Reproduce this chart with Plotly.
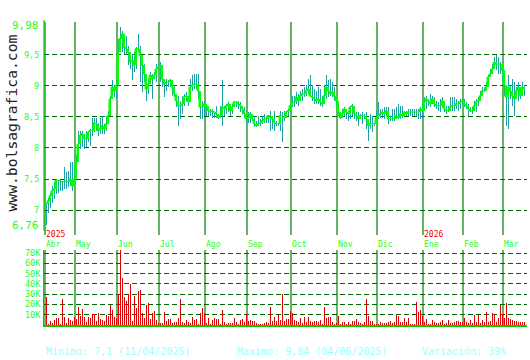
import plotly.graph_objects as go

# ---------------- data ----------------
month_labels = ["Abr", "May", "Jun", "Jul", "Ago", "Sep", "Oct", "Nov", "Dic", "Ene", "Feb", "Mar"]
month_days = [15, 21, 21, 23, 21, 22, 23, 20, 23, 20, 20, 11]
year_labels = {"Abr": "2025", "Ene": "2026"}

close = [
    7.10, 7.15, 7.23, 7.31, 7.34, 7.48, 7.48, 7.47, 7.45, 7.46, 7.47, 7.46, 7.50, 7.39, 7.50,
    7.77, 8.06, 8.20, 8.23, 8.15, 8.15, 8.25, 8.28, 8.28, 8.41, 8.39, 8.28, 8.31, 8.36, 8.31, 8.39, 8.52, 8.79, 8.98, 8.92, 9.01,
    9.54, 9.76, 9.84, 9.62, 9.60, 9.54, 9.38, 9.41, 9.33, 9.60, 9.60, 9.49, 9.33, 9.19, 8.95, 9.03, 9.17, 9.11, 9.17, 9.27, 9.30,
    9.33, 9.11, 9.03, 9.06, 9.06, 9.09, 8.98, 8.87, 8.76, 8.68, 8.68, 8.71, 8.82, 8.84, 8.74, 8.98, 9.01, 9.03, 9.03, 8.92, 8.66, 8.66, 8.71,
    8.68, 8.60, 8.58, 8.60, 8.58, 8.55, 8.49, 8.52, 8.66, 8.63, 8.68, 8.71, 8.60, 8.66, 8.74, 8.74, 8.71, 8.68, 8.63, 8.55, 8.47,
    8.49, 8.55, 8.47, 8.39, 8.36, 8.39, 8.40, 8.44, 8.47, 8.47, 8.52, 8.52, 8.47, 8.41, 8.39, 8.39, 8.52, 8.52, 8.49, 8.58, 8.60, 8.68,
    8.74, 8.74, 8.82, 8.76, 8.84, 8.87, 8.87, 8.92, 8.95, 8.84, 8.82, 8.79, 8.76, 8.79, 8.74, 8.71, 8.84, 8.98, 8.92, 8.87, 8.90, 8.84, 8.76,
    8.58, 8.49, 8.55, 8.63, 8.58, 8.55, 8.66, 8.68, 8.55, 8.52, 8.47, 8.52, 8.52, 8.52, 8.47, 8.36, 8.39, 8.39, 8.39, 8.49,
    8.52, 8.55, 8.58, 8.55, 8.60, 8.47, 8.47, 8.47, 8.47, 8.52, 8.49, 8.55, 8.52, 8.58, 8.55, 8.58, 8.58, 8.58, 8.58, 8.58, 8.58, 8.63, 8.60,
    8.74, 8.79, 8.76, 8.71, 8.79, 8.71, 8.68, 8.68, 8.68, 8.76, 8.63, 8.60, 8.60, 8.66, 8.68, 8.68, 8.71, 8.71, 8.74, 8.76,
    8.71, 8.68, 8.63, 8.60, 8.60, 8.68, 8.74, 8.76, 8.84, 8.92, 8.92, 8.98, 9.14, 9.19, 9.27, 9.38, 9.35, 9.35, 9.35, 9.25,
    9.01, 8.82, 8.98, 8.92, 8.84, 8.79, 8.92, 8.98, 8.84, 8.98, 8.95,
]

high = [
    7.12, 7.20, 7.28, 7.39, 7.45, 7.50, 7.48, 7.48, 7.47, 7.69, 7.61, 7.63, 7.77, 7.77, 7.66,
    7.88, 8.28, 8.28, 8.28, 8.23, 8.28, 8.28, 8.31, 8.49, 8.49, 8.49, 8.41, 8.49, 8.52, 8.39, 8.52, 8.60, 8.84, 9.09, 9.01, 9.09,
    9.76, 9.95, 9.89, 9.81, 9.81, 9.65, 9.54, 9.52, 9.54, 9.62, 9.84, 9.65, 9.44, 9.35, 9.09, 9.11, 9.22, 9.19, 9.22, 9.35, 9.33,
    9.38, 9.22, 9.11, 9.11, 9.09, 9.11, 9.09, 9.01, 8.84, 8.84, 8.76, 8.84, 8.87, 8.90, 8.84, 9.11, 9.17, 9.19, 9.19, 9.19, 8.76, 8.76, 8.75,
    8.71, 8.68, 8.63, 8.63, 8.60, 8.68, 8.55, 8.68, 9.09, 8.68, 8.71, 8.74, 8.68, 8.71, 8.76, 8.76, 8.75, 8.74, 8.68, 8.66, 8.52,
    8.58, 8.58, 8.52, 8.52, 8.44, 8.52, 8.47, 8.52, 8.55, 8.52, 8.53, 8.60, 8.52, 8.60, 8.44, 8.41, 8.60, 8.58, 8.60, 8.60, 8.63, 8.71,
    8.84, 8.84, 8.90, 8.87, 8.92, 8.95, 8.98, 9.01, 9.11, 9.17, 9.01, 8.95, 8.92, 8.98, 8.95, 8.84, 9.01, 9.17, 9.09, 9.11, 9.06, 8.98, 8.84,
    8.66, 8.58, 8.63, 8.66, 8.60, 8.60, 8.68, 8.71, 8.60, 8.58, 8.58, 8.55, 8.58, 8.55, 8.58, 8.41, 8.55, 8.52, 8.41, 8.60,
    8.74, 8.63, 8.63, 8.66, 8.66, 8.66, 8.52, 8.63, 8.63, 8.66, 8.71, 8.68, 8.68, 8.60, 8.60, 8.63, 8.63, 8.63, 8.63, 8.63, 8.63, 8.66, 8.71,
    8.82, 8.84, 8.79, 8.87, 8.84, 8.82, 8.76, 8.74, 8.79, 8.82, 8.71, 8.68, 8.68, 8.82, 8.82, 8.82, 8.79, 8.76, 8.79, 8.79,
    8.79, 8.74, 8.71, 8.66, 8.66, 8.76, 8.79, 8.82, 8.92, 8.98, 8.98, 9.06, 9.17, 9.27, 9.35, 9.46, 9.49, 9.46, 9.38, 9.27,
    9.06, 8.98, 9.17, 9.01, 9.11, 9.06, 8.98, 9.06, 8.98, 9.06, 9.01,
]

low = [
    6.76, 6.96, 7.03, 7.12, 7.18, 7.26, 7.28, 7.31, 7.31, 7.34, 7.34, 7.37, 7.39, 7.31, 7.45,
    7.69, 7.96, 7.98, 8.01, 7.98, 8.01, 8.09, 8.04, 8.20, 8.25, 8.28, 8.20, 8.23, 8.23, 8.23, 8.28, 8.41, 8.63, 8.82, 8.82, 8.79,
    9.00, 9.65, 9.54, 9.52, 9.49, 9.33, 9.27, 9.09, 9.22, 9.27, 9.54, 9.06, 8.90, 9.06, 8.76, 8.87, 9.06, 8.79, 9.11, 9.06, 9.25,
    9.06, 8.98, 8.82, 8.92, 8.98, 8.98, 8.84, 8.82, 8.66, 8.36, 8.47, 8.55, 8.68, 8.76, 8.68, 8.76, 8.92, 8.95, 8.95, 8.79, 8.47, 8.47, 8.52,
    8.52, 8.52, 8.52, 8.49, 8.49, 8.49, 8.47, 8.49, 8.36, 8.52, 8.55, 8.58, 8.52, 8.55, 8.66, 8.66, 8.63, 8.58, 8.55, 8.49, 8.41,
    8.41, 8.41, 8.44, 8.33, 8.33, 8.36, 8.36, 8.39, 8.41, 8.41, 8.41, 8.28, 8.31, 8.28, 8.36, 8.36, 8.28, 8.09, 8.44, 8.49, 8.52, 8.58,
    8.66, 8.66, 8.71, 8.68, 8.76, 8.76, 8.82, 8.84, 8.87, 8.82, 8.76, 8.71, 8.71, 8.71, 8.68, 8.66, 8.82, 8.79, 8.82, 8.84, 8.82, 8.76, 8.68,
    8.52, 8.47, 8.49, 8.52, 8.47, 8.44, 8.47, 8.52, 8.47, 8.44, 8.36, 8.49, 8.39, 8.47, 8.31, 8.12, 8.31, 8.25, 8.36, 8.41,
    8.47, 8.49, 8.49, 8.47, 8.52, 8.39, 8.44, 8.44, 8.44, 8.47, 8.47, 8.47, 8.49, 8.52, 8.52, 8.52, 8.52, 8.52, 8.52, 8.52, 8.47, 8.47, 8.47,
    8.66, 8.63, 8.68, 8.66, 8.71, 8.66, 8.63, 8.60, 8.58, 8.66, 8.58, 8.55, 8.58, 8.60, 8.60, 8.60, 8.63, 8.60, 8.63, 8.71,
    8.66, 8.63, 8.52, 8.58, 8.55, 8.60, 8.58, 8.68, 8.76, 8.84, 8.90, 8.92, 9.01, 9.14, 9.19, 9.27, 9.25, 9.19, 9.19, 9.06,
    8.84, 8.36, 8.31, 8.79, 8.68, 8.52, 8.84, 8.76, 8.79, 8.90, 8.84,
]

volume_k = [
    27, 1, 4, 2, 5, 7, 7, 1, 25, 8, 2, 7, 5, 4, 8,
    6, 18, 9, 16, 8, 3, 8, 7, 11, 11, 4, 12, 6, 5, 4, 10, 9, 19, 15, 8, 7,
    30, 73, 46, 27, 23, 30, 40, 4, 28, 17, 33, 34, 12, 7, 19, 21, 6, 12, 14, 5, 2,
    2, 2, 13, 4, 6, 6, 2, 3, 3, 7, 25, 3, 2, 5, 3, 2, 8, 5, 6, 1, 12, 17, 12,
    2, 7, 1, 5, 7, 6, 6, 1, 15, 3, 1, 2, 2, 2, 7, 3, 1, 5, 6, 3, 11,
    4, 5, 4, 4, 2, 1, 1, 1, 2, 3, 2, 18, 4, 8, 4, 10, 5, 30, 4, 6, 6, 14,
    12, 5, 4, 3, 7, 2, 8, 3, 8, 4, 3, 4, 4, 3, 5, 1, 18, 7, 8, 8, 3, 1, 2,
    9, 1, 3, 3, 1, 3, 1, 4, 4, 6, 3, 2, 1, 3, 25, 9, 4, 4, 1, 1,
    1, 3, 2, 2, 2, 3, 4, 2, 3, 10, 9, 3, 3, 7, 3, 7, 1, 1, 1, 22, 13, 15, 9,
    3, 6, 1, 1, 5, 3, 2, 2, 3, 5, 1, 2, 5, 2, 2, 3, 4, 4, 3, 3,
    7, 3, 2, 5, 2, 10, 3, 10, 2, 5, 3, 13, 3, 4, 12, 11, 3, 7, 19, 11,
    7, 21, 7, 6, 5, 4, 4, 3, 3, 3, 3,
]

price_ticks = [6.76, 7, 7.5, 8, 8.5, 9, 9.5, 9.98]
price_tick_text = ["6,76", "7", "7,5", "8", "8,5", "9", "9,5", "9,98"]
vol_ticks_k = [10, 20, 30, 40, 50, 60, 70]
vol_tick_text = ["10K", "20K", "30K", "40K", "50K", "60K", "70K"]

footer_min = "Minimo: 7,1 (11/04/2025)"
footer_max = "Maximo: 9,84 (04/06/2025)"
footer_var = "Variación: 39%"
watermark = "www.bolsagrafica.com"

# ---------------- derived ----------------
n = len(close)
idx = list(range(n))
opens = [close[0]] + close[:-1]
body_base = [min(o, c) for o, c in zip(opens, close)]
body_h = [abs(c - o) for o, c in zip(opens, close)]
wick_h = [h - l for h, l in zip(high, low)]
volume = [v * 1000 for v in volume_k]

month_starts = []
acc = 0
for d in month_days:
    month_starts.append(acc)
    acc += d

# ---------------- figure ----------------
W, H = 530, 360
ML, MR, MT, MB = 44, 3, 25, 35
PW, PH = W - ML - MR, H - MT - MB


def py(p):  # pixel y -> paper
    return (H - MB - p) / PH


def px(p):  # pixel x -> paper
    return (p - ML) / PW


MONO = "DejaVu Sans Mono"
BRIGHT = "#22ff22"
DARK = "#008000"
GRID = "#006400"
TEAL = "#1fa0a8"

fig = go.Figure()

fig.add_trace(go.Bar(x=idx, y=wick_h, base=low, width=0.5, marker=dict(color=TEAL, line=dict(width=0)),
                     xaxis="x", yaxis="y", hoverinfo="skip"))
fig.add_trace(go.Bar(x=idx, y=body_h, base=body_base, width=1.0, marker=dict(color="#00ff00", line=dict(width=0)),
                     xaxis="x", yaxis="y", hoverinfo="skip"))
fig.add_trace(go.Scatter(x=idx, y=close, mode="lines", line=dict(color="#00ff00", width=1, shape="hvh"),
                         xaxis="x", yaxis="y", hoverinfo="skip"))
fig.add_trace(go.Bar(x=idx, y=volume, width=0.5, marker=dict(color="#dd0000", line=dict(width=0)),
                     xaxis="x2", yaxis="y2", hoverinfo="skip"))

shapes = []
# month separators
for s in month_starts:
    xv = s - 0.5
    shapes.append(dict(type="line", xref="x", yref="paper", x0=xv, x1=xv, y0=py(22), y1=py(235),
                       line=dict(color=DARK, width=1.2), layer="below"))
    shapes.append(dict(type="line", xref="x", yref="paper", x0=xv, x1=xv, y0=py(250), y1=py(325),
                       line=dict(color=DARK, width=1.2), layer="below"))
# left price axis line
shapes.append(dict(type="line", xref="paper", yref="paper", x0=0, x1=0, y0=py(20), y1=py(231),
                   line=dict(color="#00cc00", width=1.2)))

annotations = []
for v, t in zip(price_ticks, price_tick_text):
    big = t in ("9,98", "6,76")
    annotations.append(dict(xref="paper", yref="y", x=px(41), y=v, text=t, showarrow=False,
                            xanchor="right", yanchor="middle",
                            font=dict(family=MONO, size=11 if big else 8.5, color=BRIGHT)))
for v, t in zip(vol_ticks_k, vol_tick_text):
    annotations.append(dict(xref="paper", yref="y2", x=px(43), y=v * 1000, text=t, showarrow=False,
                            xanchor="right", yanchor="middle",
                            font=dict(family=MONO, size=8.5, color=BRIGHT)))
for s, lab in zip(month_starts, month_labels):
    annotations.append(dict(xref="x", yref="paper", x=s - 0.5, y=py(244.5), text=lab, showarrow=False,
                            xanchor="left", yanchor="middle", xshift=-1,
                            font=dict(family=MONO, size=8, color=BRIGHT)))
    if lab in year_labels:
        annotations.append(dict(xref="x", yref="paper", x=s - 0.5, y=py(234.5), text=year_labels[lab],
                                showarrow=False, xanchor="left", yanchor="middle", xshift=-1,
                                font=dict(family=MONO, size=8, color="#ee0000")))
annotations.append(dict(xref="paper", yref="paper", x=px(11), y=py(123.5), text=watermark, showarrow=False,
                        textangle=-90, xanchor="center", yanchor="middle",
                        font=dict(family=MONO, size=14.7, color="#222222")))
annotations.append(dict(xref="paper", yref="paper", x=px(44), y=py(351), text=footer_min, showarrow=False,
                        xanchor="left", yanchor="middle", font=dict(family=MONO, size=10, color="#99ffff")))
annotations.append(dict(xref="paper", yref="paper", x=px(235), y=py(351), text=footer_max, showarrow=False,
                        xanchor="left", yanchor="middle", font=dict(family=MONO, size=10, color="#99ffff")))
annotations.append(dict(xref="paper", yref="paper", x=px(420), y=py(351), text=footer_var, showarrow=False,
                        xanchor="left", yanchor="middle", font=dict(family=MONO, size=10, color="#99ffff")))

fig.update_layout(
    width=W, height=H,
    margin=dict(l=ML, r=MR, t=MT, b=MB, pad=0),
    paper_bgcolor="white", plot_bgcolor="white",
    showlegend=False, barmode="overlay", bargap=0,
    xaxis=dict(domain=[0, 1], range=[-1, n + 0.5], anchor="y", showgrid=False, zeroline=False,
               showticklabels=False, ticks="", fixedrange=True),
    yaxis=dict(domain=[py(225), 1], range=[6.76, 9.98], tickvals=price_ticks, showticklabels=False,
               showgrid=True, gridcolor=GRID, gridwidth=1, griddash="5px,3px", zeroline=False, ticks="",
               fixedrange=True),
    xaxis2=dict(domain=[0, 1], range=[-1, n + 0.5], anchor="y2", matches="x", showgrid=False, zeroline=False,
                showticklabels=False, ticks="", showline=True, linecolor="#00cc00", linewidth=1.5,
                fixedrange=True),
    yaxis2=dict(domain=[0, py(250)], range=[0, 73000], tickvals=[v * 1000 for v in vol_ticks_k],
                showticklabels=False, showgrid=True, gridcolor=GRID, gridwidth=1, griddash="5px,3px",
                zeroline=False, ticks="", showline=True, linecolor="#00cc00", linewidth=1.2,
                fixedrange=True),
    shapes=shapes,
    annotations=annotations,
)

fig.write_html("out.html", config={"displayModeBar": False, "staticPlot": True})
